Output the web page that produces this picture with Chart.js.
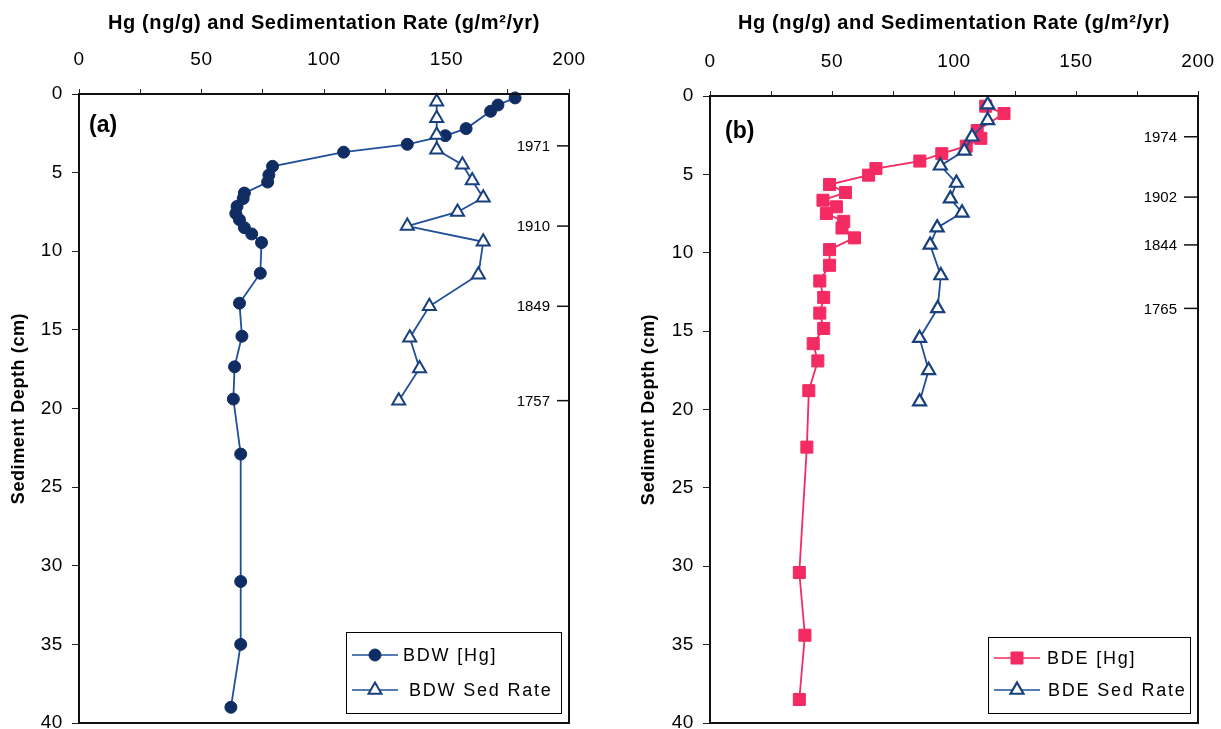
<!DOCTYPE html>
<html><head><meta charset="utf-8">
<script src="https://cdn.jsdelivr.net/npm/chart.js@4/dist/chart.umd.min.js"></script>
<style>
html,body{margin:0;padding:0;background:#fff;overflow:hidden;width:1221px;height:729px;position:relative;}
#ca{position:absolute;left:0;top:0;}
#cb{position:absolute;left:610px;top:0;}
</style></head><body>
<canvas id="ca" width="610" height="760"></canvas>
<canvas id="cb" width="640" height="760"></canvas>
<script>
// ---- data ----
const xTickValues = [0, 50, 100, 150, 200];
const yTickValues = [0, 5, 10, 15, 20, 25, 30, 35, 40];

const bdwHgDepth = [0.25, 0.7, 1.1, 2.2, 2.65, 3.2, 3.7, 4.6, 5.15, 5.6, 6.3, 6.65, 7.15, 7.6, 8.0, 8.5, 8.9, 9.45, 11.4, 13.3, 15.4, 17.35, 19.4, 22.9, 31.0, 35.0, 39.0];
const bdwHg      = [178, 171, 168, 158, 149.5, 134, 108, 79, 77.5, 77, 67.5, 67, 64.5, 64, 65.5, 67.5, 70.5, 74.5, 74, 65.5, 66.5, 63.5, 63, 66, 66, 66, 62];
const bdwSedDepth = [0.5, 1.55, 2.6, 3.55, 4.5, 5.5, 6.6, 7.5, 8.4, 9.4, 11.5, 13.5, 15.5, 17.45, 19.5];
const bdwSed      = [146, 146, 146, 146, 156.5, 160.5, 165, 154.5, 134, 165, 163, 143, 135, 139, 130.5];

const bdeHgDepth = [0.65, 1.12, 2.2, 2.7, 3.2, 3.68, 4.15, 4.63, 5.05, 5.65, 6.16, 6.65, 7.07, 7.5, 8.0, 8.42, 9.05, 9.8, 10.8, 11.8, 12.85, 13.85, 14.83, 15.8, 16.9, 18.8, 22.4, 30.4, 34.4, 38.5];
const bdeHg      = [113, 120.5, 109.5, 111, 105, 95, 86, 68, 65, 49, 55.5, 46.3, 51.8, 47.7, 54.8, 54.1, 59.2, 49, 49, 45, 46.6, 45, 46.6, 42.3, 44.2, 40.5, 39.7, 36.6, 38.9, 36.6];
const bdeSedDepth = [0.55, 1.55, 2.6, 3.5, 4.45, 5.55, 6.55, 7.45, 8.4, 9.5, 11.45, 13.55, 15.45, 17.5, 19.5];
const bdeSed      = [113.8, 113.8, 107.4, 104.2, 94.4, 101, 98.5, 103.3, 93.1, 90.2, 94.6, 93.3, 85.9, 89.6, 85.9];

const datesA = ['1971', '1910', '1849', '1757'];
const dateDepthsA = [3.3, 8.4, 13.5, 19.5];
const datesB = ['1974', '1902', '1844', '1765'];
const dateDepthsB = [2.6, 6.45, 9.5, 13.55];

const xTitle = 'Hg (ng/g) and Sedimentation Rate (g/m\u00B2/yr)';
const yTitle = 'Sediment Depth (cm)';
const labelsA = ['BDW [Hg]', 'BDW Sed Rate'];
const labelsB = ['BDE [Hg]', 'BDE Sed Rate'];
const panelA = '(a)';
const panelB = '(b)';

// ---- styles ----
const FONT = "'Liberation Sans', Arial, sans-serif";
const NARROW = "'Liberation Sans Narrow', 'Liberation Sans', Arial, sans-serif";
const NAVY = '#0f2d63';
const BLUE_LINE = '#1f4f9a';
const TRI = '#17407c';
const PINK = '#f42a62';

function pts(xs, ys) { return xs.map((v, i) => ({ x: v, y: ys[i] })); }

function drawMarker(ctx, style, x, y, r, fill, stroke, lw) {
  ctx.save();
  ctx.beginPath();
  if (style === 'circle') {
    ctx.arc(x, y, r, 0, Math.PI * 2);
  } else if (style === 'triangle') {
    let a = 0;
    ctx.moveTo(x + Math.sin(a) * r, y - Math.cos(a) * r);
    a += 2 * Math.PI / 3;
    ctx.lineTo(x + Math.sin(a) * r, y - Math.cos(a) * r);
    a += 2 * Math.PI / 3;
    ctx.lineTo(x + Math.sin(a) * r, y - Math.cos(a) * r);
    ctx.closePath();
  } else {
    const s = Math.SQRT1_2 * r;
    ctx.rect(x - s, y - s, 2 * s, 2 * s);
  }
  ctx.fillStyle = fill; ctx.fill();
  ctx.lineWidth = lw; ctx.strokeStyle = stroke; ctx.stroke();
  ctx.restore();
}

const spacingPlugin = {
  id: 'spacing',
  beforeDraw(chart) { chart.ctx.letterSpacing = '0.6px'; },
  beforeDatasetsDraw(chart) { chart.ctx.letterSpacing = '0px'; }
};

function decorPlugin(spec) {
  return {
    id: 'decor',
    afterDraw(chart) {
      const { ctx, chartArea: ca, scales } = chart;
      ctx.save();
      ctx.letterSpacing = '0px';
      // frame
      ctx.strokeStyle = '#111';
      ctx.lineWidth = 2;
      ctx.strokeRect(ca.left, ca.top, ca.right - ca.left, ca.bottom - ca.top);
      // panel label
      ctx.fillStyle = '#000';
      ctx.font = 'bold 23px ' + FONT;
      ctx.textAlign = 'left';
      ctx.textBaseline = 'middle';
      ctx.fillText(spec.panel, ca.left + spec.panelDx, ca.top + spec.panelDy);
      // date markers
      ctx.font = '15px ' + NARROW;
      ctx.textAlign = 'right';
      ctx.lineWidth = 1.5;
      ctx.strokeStyle = '#111';
      spec.dates.forEach((d, i) => {
        const y = scales.y.getPixelForValue(spec.dateDepths[i]);
        ctx.beginPath();
        ctx.moveTo(ca.right - spec.dateTick, y);
        ctx.lineTo(ca.right, y);
        ctx.stroke();
        ctx.fillText(d, ca.right - spec.dateTick - 7, y + 1);
      });
      // legend
      const L = spec.legend;
      const bx = ca.right - L.dr - L.w, by = ca.bottom - L.db - L.h;
      ctx.fillStyle = '#fff';
      ctx.fillRect(bx, by, L.w, L.h);
      ctx.strokeStyle = '#000';
      ctx.lineWidth = 1;
      ctx.strokeRect(bx + 0.5, by + 0.5, L.w, L.h);
      ctx.font = '18px ' + FONT;
      ctx.textAlign = 'left';
      L.items.forEach((it) => {
        const y = by + it.dy;
        ctx.strokeStyle = it.line;
        ctx.lineWidth = 1.5;
        ctx.beginPath();
        ctx.moveTo(bx + 6, y);
        ctx.lineTo(bx + 52, y);
        ctx.stroke();
        drawMarker(ctx, it.style, bx + 29, y, it.r, it.fill, it.stroke, it.lw);
        ctx.fillStyle = '#000';
        ctx.letterSpacing = '1.8px';
        ctx.fillText(it.label, bx + it.tx, y + 1);
        ctx.letterSpacing = '0px';
      });
      ctx.restore();
    }
  };
}

function makeChart(id, datasets, spec) {
  return new Chart(document.getElementById(id), {
    type: 'scatter',
    data: { datasets },
    options: {
      responsive: false,
      animation: false,
      devicePixelRatio: 1,
      layout: { padding: { left: 0, top: 0, right: spec.padRight, bottom: spec.padBottom } },
      plugins: { legend: { display: false }, tooltip: { enabled: false } },
      scales: {
        x: {
          type: 'linear', position: 'top', min: 0, max: 200,
          afterBuildTicks: (s) => {
            const t = [];
            xTickValues.forEach((v, i) => {
              t.push({ value: v });
              if (i < xTickValues.length - 1) t.push({ value: (v + xTickValues[i + 1]) / 2, minor: true });
            });
            s.ticks = t;
          },
          ticks: {
            autoSkip: false, maxRotation: 0, color: '#000', padding: 18,
            font: { family: FONT, size: 19 },
            callback: (v) => (xTickValues.includes(v) ? String(v) : '')
          },
          grid: { drawOnChartArea: false, tickLength: 5, color: '#222', lineWidth: 1 },
          border: { display: true, color: '#111', width: 2 },
          title: {
            display: true, text: xTitle, color: '#000',
            font: { family: FONT, size: 20, weight: 'bold' },
            padding: { top: spec.titleTop, bottom: 0 }
          },
          afterFit: (s) => { s.height = spec.areaTop; }
        },
        y: {
          type: 'linear', position: 'left', reverse: true, min: 0, max: 40,
          afterBuildTicks: (s) => { s.ticks = yTickValues.map((v) => ({ value: v })); },
          ticks: { color: '#000', padding: 9, font: { family: FONT, size: 19 } },
          grid: { drawOnChartArea: false, tickLength: 7, color: '#222', lineWidth: 1 },
          border: { display: true, color: '#111', width: 2 },
          title: {
            display: true, text: yTitle, color: '#000',
            font: { family: FONT, size: 18, weight: 'bold' },
            padding: { top: spec.yTitlePad, bottom: 0 }
          },
          afterFit: (s) => { s.width = spec.areaLeft; }
        }
      }
    },
    plugins: [spacingPlugin, decorPlugin(spec)]
  });
}

makeChart('ca', [
  { label: labelsA[1], data: pts(bdwSed, bdwSedDepth), showLine: true, order: 0, clip: false,
    borderColor: BLUE_LINE, borderWidth: 1.8, pointStyle: 'triangle', pointRadius: 7.5,
    pointBackgroundColor: '#fff', pointBorderColor: TRI, pointBorderWidth: 2 },
  { label: labelsA[0], data: pts(bdwHg, bdwHgDepth), showLine: true, order: 1, clip: false,
    borderColor: BLUE_LINE, borderWidth: 1.8, pointStyle: 'circle', pointRadius: 6,
    pointBackgroundColor: NAVY, pointBorderColor: NAVY, pointBorderWidth: 1 }
], {
  padRight: 41, padBottom: 37, areaTop: 94, areaLeft: 79, titleTop: 11, yTitlePad: 8,
  panel: panelA, panelDx: 10, panelDy: 32,
  dates: datesA, dateDepths: dateDepthsA, dateTick: 12,
  legend: { w: 215, h: 81, dr: 8, db: 10, items: [
    { label: labelsA[0], dy: 23, tx: 57, style: 'circle', r: 6, fill: NAVY, stroke: NAVY, lw: 1, line: BLUE_LINE },
    { label: labelsA[1], dy: 58, tx: 63, style: 'triangle', r: 7.5, fill: '#fff', stroke: TRI, lw: 2, line: BLUE_LINE }
  ] }
});

makeChart('cb', [
  { label: labelsB[1], data: pts(bdeSed, bdeSedDepth), showLine: true, order: 0, clip: false,
    borderColor: BLUE_LINE, borderWidth: 1.8, pointStyle: 'triangle', pointRadius: 7.5,
    pointBackgroundColor: '#fff', pointBorderColor: TRI, pointBorderWidth: 2.2 },
  { label: labelsB[0], data: pts(bdeHg, bdeHgDepth), showLine: true, order: 1, clip: false,
    borderColor: PINK, borderWidth: 1.8, pointStyle: 'rect', pointRadius: 8.5,
    pointBackgroundColor: PINK, pointBorderColor: PINK, pointBorderWidth: 1 }
], {
  padRight: 52, padBottom: 37, areaTop: 96, areaLeft: 100, titleTop: 11, yTitlePad: 28,
  panel: panelB, panelDx: 15, panelDy: 36,
  dates: datesB, dateDepths: dateDepthsB, dateTick: 14,
  legend: { w: 202, h: 76, dr: 8, db: 10, items: [
    { label: labelsB[0], dy: 21, tx: 59, style: 'rect', r: 8.5, fill: PINK, stroke: PINK, lw: 1, line: PINK },
    { label: labelsB[1], dy: 53, tx: 60, style: 'triangle', r: 7.5, fill: '#fff', stroke: TRI, lw: 2.2, line: BLUE_LINE }
  ] }
});
</script>
</body></html>
